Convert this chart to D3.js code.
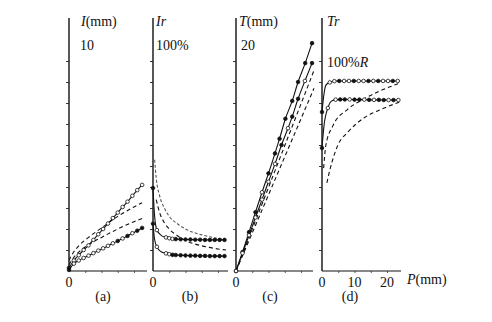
<!DOCTYPE html>
<html>
<head>
<meta charset="utf-8">
<script src="https://cdn.jsdelivr.net/npm/d3@7"></script>
<style>
  body { margin: 0; background: #fff; }
</style>
</head>
<body>
<div id="container"></div>
<script>
// values (P in mm on the x axis of every panel)

// (a) I (mm)
let aTopP = [0, 1.5, 3, 4.5, 6, 7.5, 9, 10.5, 12, 13.5, 15, 16.5, 18, 19.5, 21, 22.5];
let aTopV = [0.15, 0.5, 0.75, 1.0, 1.22, 1.48, 1.75, 2.0, 2.26, 2.52, 2.78, 3.05, 3.3, 3.58, 3.85, 4.1];
let aTopM = ["f", "o", "o", "o", "o", "o", "o", "o", "o", "o", "o", "o", "o", "o", "o", "o"];
let aLowP = [0, 1.5, 3, 4.5, 6, 7.5, 9, 10.5, 12, 13.5, 15, 16.5, 18, 19.5, 21, 22.5];
let aLowV = [0.05, 0.35, 0.5, 0.62, 0.73, 0.85, 0.97, 1.08, 1.2, 1.32, 1.43, 1.55, 1.67, 1.8, 1.92, 2.05];
let aLowM = ["f", "o", "o", "o", "o", "o", "o", "o", "o", "o", "f", "o", "f", "o", "f", "f"];
let aDash1P = [0, 1, 3, 6, 10, 15, 20, 22.5];
let aDash1V = [0.5, 0.8, 1.2, 1.6, 2.05, 2.6, 3.05, 3.25];
let aDash2P = [0, 1, 3, 6, 10, 15, 20, 22.5];
let aDash2V = [0.3, 0.55, 0.9, 1.25, 1.6, 2.0, 2.35, 2.5];

// (b) Ir (%/10)
let bTopP = [0, 0.5, 1.2, 2.5, 4, 5, 6, 7, 8.5, 10, 11.5, 13, 14.5, 16, 17.5, 19, 20.5, 22];
let bTopV = [3.95, 2.6, 1.95, 1.7, 1.6, 1.56, 1.53, 1.52, 1.51, 1.5, 1.5, 1.49, 1.49, 1.48, 1.48, 1.48, 1.48, 1.48];
let bTopM = ["f", "", "o", "", "o", "o", "o", "f", "f", "f", "f", "f", "f", "f", "f", "f", "f", "f"];
let bLowP = [0, 0.5, 1.2, 2.5, 4, 5, 6, 7, 8.5, 10, 11.5, 13, 14.5, 16, 17.5, 19, 20.5, 22];
let bLowV = [2.25, 1.5, 1.15, 0.92, 0.84, 0.8, 0.77, 0.76, 0.75, 0.74, 0.73, 0.73, 0.72, 0.72, 0.71, 0.71, 0.71, 0.71];
let bLowM = ["f", "", "o", "", "o", "o", "f", "f", "f", "f", "f", "f", "f", "f", "f", "f", "f", "f"];
let bDash1P = [0.5, 1, 2, 3.5, 5, 7.5, 10, 15, 20, 22.5];
let bDash1V = [5.3, 4.4, 3.6, 3.0, 2.6, 2.25, 2.0, 1.72, 1.55, 1.48];
let bDash2P = [1, 2, 3.5, 5, 7.5, 10, 15, 20, 22.5];
let bDash2V = [3.4, 2.8, 2.3, 2.0, 1.68, 1.45, 1.2, 1.05, 1.0];

// (c) T (mm)
let cTopP = [0, 2, 4, 6, 8, 10, 12, 13.4, 15.2, 17.3, 19.1, 21.3, 23.4];
let cTopV = [0, 1.8, 3.7, 5.6, 7.5, 9.3, 11.2, 12.6, 14.5, 16.2, 18.0, 19.8, 21.7];
let cTopM = ["f", "f", "f", "f", "o", "f", "f", "f", "f", "f", "f", "f", "f"];
let cMidP = [0, 2, 4, 6, 8, 10, 12, 14, 16, 17.3, 19.1, 21.2, 23.4];
let cMidV = [0, 1.7, 3.4, 5.1, 6.8, 8.5, 10.2, 12.0, 13.6, 14.7, 16.4, 18.1, 19.8];
let cMidM = ["o", "o", "o", "o", "o", "o", "o", "f", "o", "f", "f", "o", "f"];
let cDash1P = [0, 24];
let cDash1V = [0, 19.1];
let cDash2P = [0, 24];
let cDash2V = [0, 17.4];

// (d) Tr (%/10)
let dTopP = [0, 0.5, 1.2, 2.4, 3.8, 5.3, 6.8, 8.3, 9.8, 11.3, 12.8, 14.3, 15.8, 17.3, 18.8, 20.3, 21.8, 23.3, 24];
let dTopV = [7.57, 8.3, 8.85, 8.98, 9.04, 9.05, 9.05, 9.05, 9.05, 9.05, 9.05, 9.05, 9.05, 9.05, 9.05, 9.05, 9.05, 9.05, 9.05];
let dTopM = ["f", "", "", "o", "o", "f", "o", "o", "f", "o", "o", "f", "o", "f", "o", "o", "f", "o", ""];
let dLowP = [0, 0.6, 1.8, 3.0, 4.2, 5.6, 7.0, 8.5, 10.0, 11.5, 13.0, 14.5, 16.0, 17.5, 19.0, 20.5, 22.0, 23.5, 24];
let dLowV = [5.86, 6.9, 7.76, 8.1, 8.16, 8.17, 8.17, 8.17, 8.16, 8.16, 8.16, 8.15, 8.15, 8.15, 8.14, 8.14, 8.14, 8.14, 8.14];
let dLowM = ["f", "", "o", "", "o", "f", "f", "o", "f", "f", "o", "f", "o", "f", "f", "o", "f", "o", ""];
let dDash1P = [0.5, 1.2, 3.3, 7.9, 13, 18.2, 24];
let dDash1V = [4.9, 6.0, 6.9, 7.7, 8.2, 8.6, 8.95];
let dDash2P = [1.5, 2.4, 4.9, 7.9, 13, 18.2, 24];
let dDash2V = [4.2, 4.8, 6.0, 6.6, 7.3, 7.7, 8.05];

// tick values
let yTicks10 = [1, 2, 3, 4, 5, 6, 7, 8, 9, 10];
let yTicks20 = [2, 4, 6, 8, 10, 12, 14, 16, 18, 20];
let xTicks = [5, 10, 15, 20];
let dLabels = [0, 10, 20];

let w = 492;
let h = 322;
let base = 271;
let yTopPx = 61;
let axisTop = 18;
let panelW = 78;
let serif = "'Liberation Serif', 'DejaVu Serif', serif";

let viz = d3.select("#container")
  .append("svg")
    .attr("width", w)
    .attr("height", h)
    .attr("font-family", serif)
;

function series(P, V, M) {
  return P.map((p, i) => ({p: p, v: V[i], m: M ? M[i] : ""}));
}

let panels = [
  {x0: 69, yMax: 10, ticks: yTicks10, xEnd: 147, name: "(a)", nameX: 103,
   head: [{t: "I", it: true, rest: "(mm)", x: 81, y: 26}, {t: "", rest: "10", x: 80, y: 50}],
   solid: [series(aTopP, aTopV, aTopM), series(aLowP, aLowV, aLowM)],
   dashed: [series(aDash1P, aDash1V), series(aDash2P, aDash2V)]},
  {x0: 153, yMax: 10, ticks: yTicks10, xEnd: 228, name: "(b)", nameX: 190,
   head: [{t: "Ir", it: true, rest: "", x: 156, y: 26}, {t: "", rest: "100%", x: 156, y: 50}],
   solid: [series(bTopP, bTopV, bTopM), series(bLowP, bLowV, bLowM)],
   dashed: [series(bDash1P, bDash1V), series(bDash2P, bDash2V)]},
  {x0: 236, yMax: 20, ticks: yTicks20, xEnd: 313, name: "(c)", nameX: 270,
   head: [{t: "T", it: true, rest: "(mm)", x: 239, y: 26}, {t: "", rest: "20", x: 241, y: 50}],
   solid: [series(cTopP, cTopV, cTopM), series(cMidP, cMidV, cMidM)],
   dashed: [series(cDash1P, cDash1V), series(cDash2P, cDash2V)]},
  {x0: 322, yMax: 10, ticks: yTicks10, xEnd: 401, name: "(d)", nameX: 350,
   head: [{t: "Tr", it: true, rest: "", x: 327, y: 26}, {t: "", rest: "100%", x: 327, y: 67, tail: "R"}],
   solid: [series(dTopP, dTopV, dTopM), series(dLowP, dLowV, dLowM)],
   dashed: [series(dDash1P, dDash1V), series(dDash2P, dDash2V)]}
];

panels.forEach(function(pn, k) {
  let x = d3.scaleLinear().domain([0, 24]).range([pn.x0, pn.x0 + panelW]);
  let y = d3.scaleLinear().domain([0, pn.yMax]).range([base, yTopPx]);
  let g = viz.append("g").classed("panel", true);

  // y axis: long spine plus small ticks on the left
  g.append("line")
    .attr("x1", pn.x0).attr("x2", pn.x0)
    .attr("y1", axisTop).attr("y2", base)
    .attr("stroke", "#111").attr("stroke-width", 1.4);
  let yAxis = d3.axisLeft(y).tickValues(pn.ticks).tickSize(3).tickFormat("");
  let yg = g.append("g").attr("transform", "translate(" + pn.x0 + ",0)").call(yAxis);
  yg.select(".domain").remove();
  yg.selectAll("line").attr("stroke", "#222").attr("stroke-width", 0.9);

  // x axis
  g.append("line")
    .attr("x1", pn.x0).attr("x2", pn.xEnd)
    .attr("y1", base).attr("y2", base)
    .attr("stroke", "#111").attr("stroke-width", 1.2);
  let xAxis = d3.axisBottom(x).tickValues(xTicks).tickSize(2).tickFormat("");
  let xg = g.append("g").attr("transform", "translate(0," + base + ")").call(xAxis);
  xg.select(".domain").remove();
  xg.selectAll("line").attr("stroke", "#333").attr("stroke-width", 0.8);

  // tick labels under the axis
  let labs = k == 3 ? dLabels : [0];
  g.selectAll(".xlab").data(labs).enter().append("text")
    .attr("x", d => x(d)).attr("y", 287)
    .attr("text-anchor", "middle").attr("font-size", 14)
    .attr("font-family", serif).attr("fill", "#111")
    .text(d => d);

  g.append("text").attr("x", pn.nameX).attr("y", 301)
    .attr("text-anchor", "middle").attr("font-size", 14)
    .attr("font-family", serif).attr("fill", "#111")
    .text(pn.name);

  pn.head.forEach(function(hd) {
    let t = g.append("text").attr("x", hd.x).attr("y", hd.y).attr("font-size", 14)
      .attr("font-family", serif).attr("fill", "#111");
    if (hd.t) t.append("tspan").attr("font-style", "italic").text(hd.t);
    if (hd.rest) t.append("tspan").text(hd.rest);
    if (hd.tail) t.append("tspan").attr("font-style", "italic").text(hd.tail);
  });

  let line = d3.line().x(d => x(d.p)).y(d => y(d.v)).curve(d3.curveMonotoneX);

  pn.dashed.forEach(function(s, i) {
    g.append("path").datum(s)
      .attr("d", line)
      .attr("fill", "none")
      .attr("stroke", (k == 1 && i == 0) ? "#555" : "#111")
      .attr("stroke-width", 1.1)
      .attr("stroke-dasharray", (k == 1 && i == 0) ? "3,2" : "4,3");
  });

  pn.solid.forEach(function(s) {
    g.append("path").datum(s)
      .attr("d", line)
      .attr("fill", "none")
      .attr("stroke", "#111")
      .attr("stroke-width", 1.1);
    g.selectAll(null).data(s.filter(d => d.m != "")).enter().append("circle")
      .attr("cx", d => x(d.p)).attr("cy", d => y(d.v))
      .attr("r", 1.8)
      .attr("fill", d => d.m == "f" ? "#111" : "#fff")
      .attr("stroke", "#111").attr("stroke-width", 0.8);
  });
});

// P(mm) on the last axis
let pl = viz.append("text").attr("x", 407).attr("y", 284).attr("font-size", 14)
  .attr("font-family", serif).attr("fill", "#111");
pl.append("tspan").attr("font-style", "italic").text("P");
pl.append("tspan").text("(mm)");
</script>
</body>
</html>
